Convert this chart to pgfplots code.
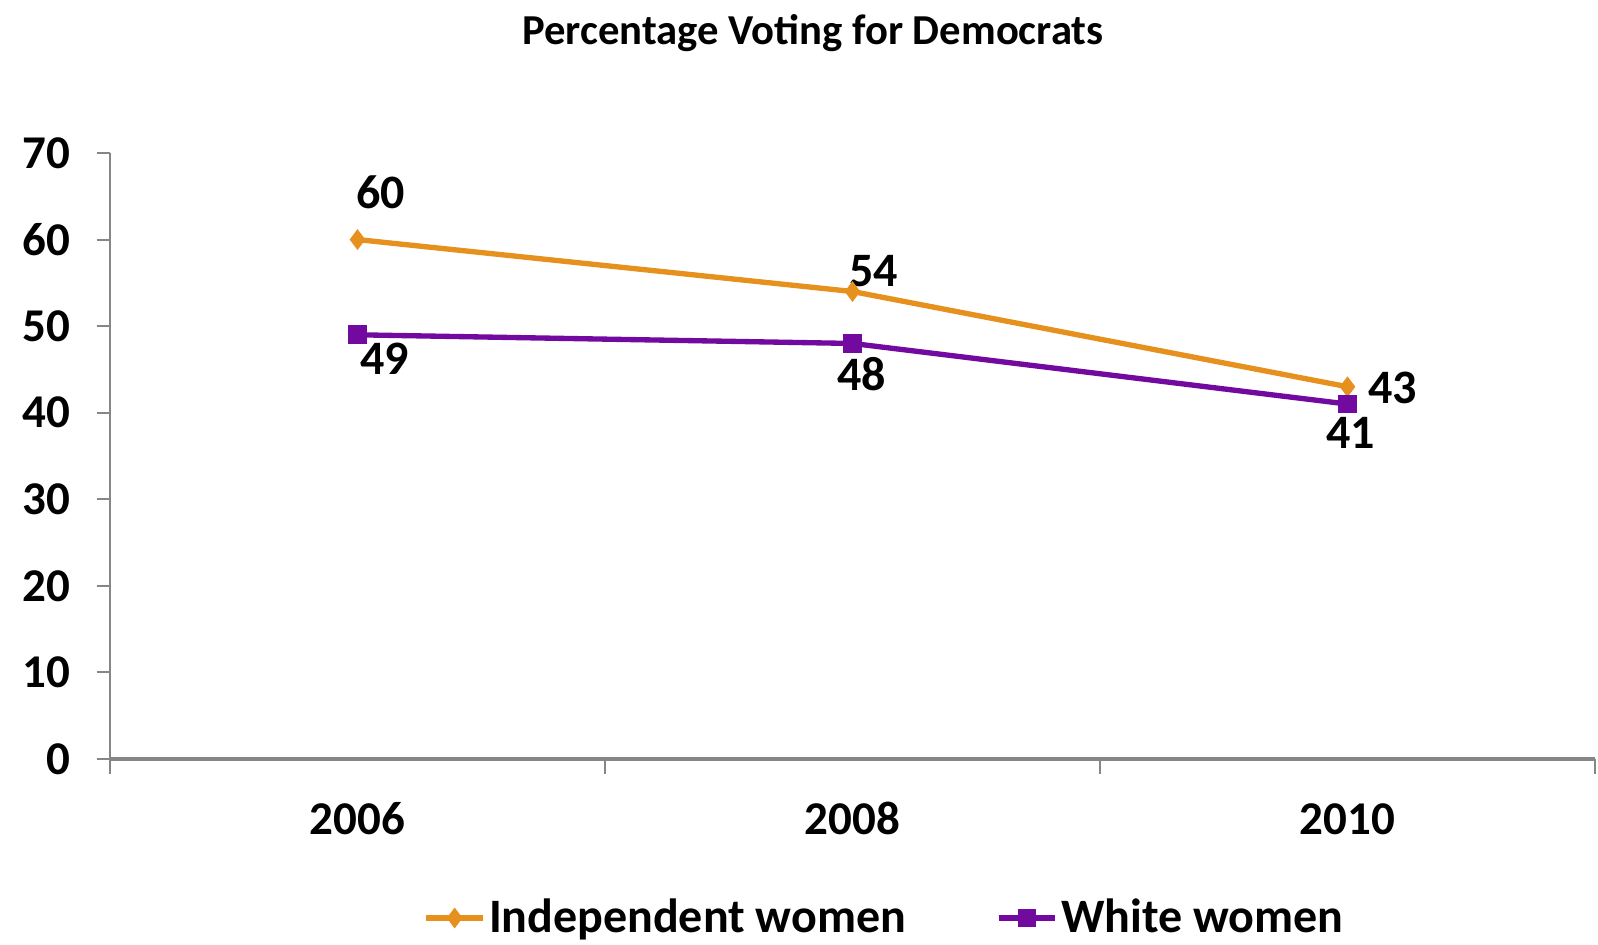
\documentclass[border=0pt]{standalone}
\usepackage{pgfplots}
\pgfplotsset{compat=1.18}
\usepackage{fontspec}
\setmainfont{Carlito}
\definecolor{iwomen}{RGB}{230,145,30}
\definecolor{wwomen}{RGB}{115,10,160}
\definecolor{axgray}{RGB}{134,134,134}
\newcommand\px[1]{#1*0.3pt}
\begin{document}
\begin{tikzpicture}
\path[use as bounding box] ({-\px{110}},{-\px{186}}) rectangle ({\px{1488}},{\px{759}});
\begin{axis}[
  at={(0,0)}, anchor=south west,
  scale only axis,
  width={\px{1485}}, height={\px{606}},
  xmin=-0.5, xmax=2.5, ymin=0, ymax=70,
  axis lines*=left,
  clip=false,
  x axis line style={axgray, line width=1.2pt},
  y axis line style={axgray, line width=0.6pt},
  xtick={0,1,2},
  xticklabels={2006,2008,2010},
  minor xtick={-0.5,0.5,1.5,2.5},
  ytick={0,10,...,70},
  tick align=outside,
  major tick length={\px{13}},
  minor tick length={\px{15}},
  major x tick style={draw=none},
  minor x tick style={axgray, line width=0.6pt},
  major y tick style={axgray, line width=0.6pt},
  /pgf/number format/assume math mode=true,
  tick label style={font=\fontsize{14.1}{16}\selectfont\bfseries},
  yticklabel style={xshift=-4.5pt},
  xticklabel style={anchor=base, yshift={-\px{63}}},
  legend style={draw=none, fill=none, at={(axis cs:-0.5,0)}, anchor=south west,
    xshift={\px{303}}, yshift={-\px{189}},
    legend columns=2,
    font=\fontsize{14.4}{16}\selectfont\bfseries,
    nodes={inner sep=1pt},
    /tikz/every even column/.append style={column sep=26pt}},
  legend image code/.code={\draw[mark repeat=2,mark phase=2,#1] plot coordinates {(0pt,0pt) (8.5pt,0pt) (17pt,0pt)};},
]
\addplot[iwomen, line width=1.6pt, mark=diamond*, mark size=1.8pt] coordinates {(0,60) (1,54) (2,43)};
\addlegendentry{Independent women}
\addplot[wwomen, line width=1.6pt, mark=square*, mark size=2pt] coordinates {(0,49) (1,48) (2,41)};
\addlegendentry{White women}

\begin{scope}[every node/.style={font=\fontsize{14.4}{16}\selectfont\bfseries, anchor=base, inner sep=0pt}]
\node at (axis cs:0,60) [xshift={\px{23}}, yshift={\px{31}}] {60};
\node at (axis cs:1,54) [xshift={\px{21}}, yshift={\px{5}}] {54};
\node at (axis cs:2,43) [xshift={\px{45}}, yshift={-\px{17}}] {43};
\node at (axis cs:0,49) [xshift={\px{27}}, yshift={-\px{40}}] {49};
\node at (axis cs:1,48) [xshift={\px{9}}, yshift={-\px{47}}] {48};
\node at (axis cs:2,41) [xshift={\px{3}}, yshift={-\px{44}}] {41};
\end{scope}
\node[font=\fontsize{12.8}{14}\selectfont\bfseries, anchor=base, inner sep=0pt] at ({\px{703}},{\px{714}}) {Percentage Voting for Democrats};
\end{axis}
\end{tikzpicture}
\end{document}
